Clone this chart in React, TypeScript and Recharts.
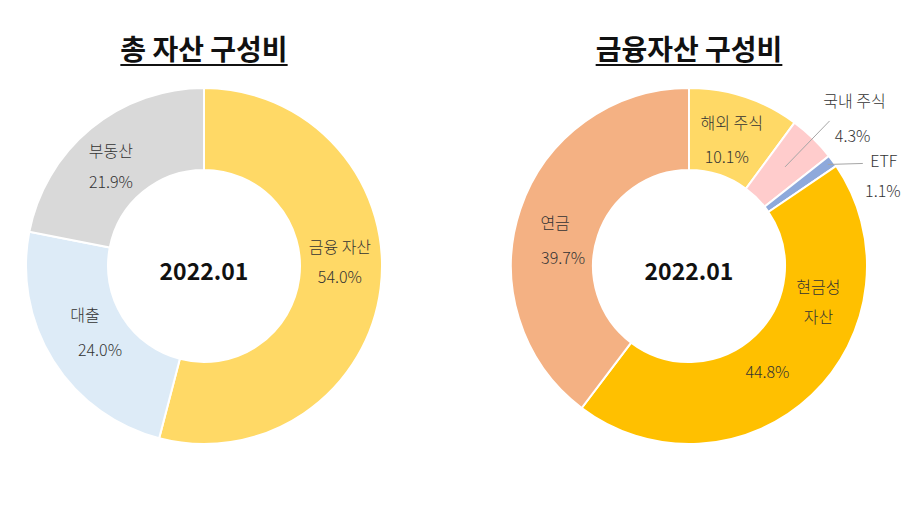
import { PieChart, Pie, Cell } from "recharts";

const totalNames = ["금융 자산", "대출", "부동산"];
const totalValues = [54.0, 24.0, 21.9];
const totalColors = ["#FFD966", "#DDEBF7", "#D9D9D9"];

const finNames = ["해외 주식", "국내 주식", "ETF", "현금성 자산", "연금"];
const finValues = [10.1, 4.3, 1.1, 44.8, 39.7];
const finColors = ["#FFD966", "#FFCCCC", "#8EA9DB", "#FFC000", "#F4B183"];

const periodLabel = "2022.01";

const totalRows = totalNames.map((name, i) => ({ name, value: totalValues[i] }));
const finRows = finNames.map((name, i) => ({ name, value: finValues[i] }));

const RAD = Math.PI / 180;
const FONT = "'Noto Sans CJK KR', 'Noto Sans', sans-serif";
const TXT = "#333";
const LABEL_R = 137;

// label nudges (name / percent) relative to the slice's mid point, like Excel's hand-moved labels
const nudge: Record<string, number[]> = {
  "금융 자산": [0, -36, 0, -6],
  대출: [-3, -24, 12, 11],
  부동산: [-6, -9, -6, 22],
  "해외 주식": [0, -13, -5, 21],
  연금: [-4, 1, 4, 36],
};

function polar(cx: number, cy: number, r: number, angle: number) {
  return { x: cx + r * Math.cos(-angle * RAD), y: cy + r * Math.sin(-angle * RAD) };
}

function pct(v: number) {
  return v.toFixed(1) + "%";
}

function T({ x, y, children }: { x: number; y: number; children: string }) {
  return (
    <text x={x} y={y + 6} textAnchor="middle" fontFamily={FONT} fontSize={16} fontWeight={300} fill={TXT}>
      {children}
    </text>
  );
}

function Center({ cx, cy }: { cx: number; cy: number }) {
  return (
    <text x={cx} y={cy + 14} textAnchor="middle" fontFamily={FONT} fontSize={23} fontWeight={700} fill="#111">
      {periodLabel}
    </text>
  );
}

function inside(p: any) {
  const m = polar(p.cx, p.cy, LABEL_R, p.midAngle);
  const [nx, ny, px, py] = nudge[p.name] || [0, -15, 0, 15];
  return (
    <g>
      {p.index === 0 && <Center cx={p.cx} cy={p.cy} />}
      <T x={m.x + nx} y={m.y + ny}>{p.name}</T>
      <T x={m.x + px} y={m.y + py}>{pct(p.value)}</T>
    </g>
  );
}

const totalLabel = (p: any) => inside(p);

const finLabel = (p: any) => {
  const { cx, cy, midAngle, name, value } = p;
  if (name === "국내 주식") {
    const a = polar(cx, cy, 138, midAngle);
    const b = polar(cx, cy, 202, midAngle);
    return (
      <g>
        <line x1={a.x} y1={a.y} x2={b.x} y2={b.y} stroke="#A6A6A6" strokeWidth={1} />
        <T x={b.x + 25} y={b.y - 20}>{name}</T>
        <T x={b.x + 23} y={b.y + 15}>{pct(value)}</T>
      </g>
    );
  }
  if (name === "ETF") {
    const a = polar(cx, cy, 172, midAngle);
    const b = { x: a.x + 35, y: a.y - 1 };
    return (
      <g>
        <line x1={a.x} y1={a.y} x2={b.x} y2={b.y} stroke="#A6A6A6" strokeWidth={1} />
        <T x={b.x + 21} y={b.y - 2}>{name}</T>
        <T x={b.x + 20} y={b.y + 28}>{pct(value)}</T>
      </g>
    );
  }
  if (name === "현금성 자산") {
    const m = polar(cx, cy, LABEL_R, midAngle);
    const [first, second] = name.split(" ");
    return (
      <g>
        <T x={m.x + 35} y={m.y - 78}>{first}</T>
        <T x={m.x + 35} y={m.y - 48}>{second}</T>
        <T x={m.x - 16} y={m.y + 7}>{pct(value)}</T>
      </g>
    );
  }
  return inside(p);
};

const titleStyle: React.CSSProperties = {
  position: "absolute",
  top: 30,
  width: 400,
  textAlign: "center",
  fontFamily: FONT,
  fontWeight: 700,
  fontSize: 28,
  color: "#111",
  textDecoration: "underline",
  textDecorationThickness: 2,
  textUnderlineOffset: 4,
  lineHeight: "36px",
};

export default function App() {
  return (
    <div style={{ position: "absolute", left: 0, top: 0, width: 922, height: 508, background: "#fff" }}>
      <div style={{ ...titleStyle, left: 4 }}>총 자산 구성비</div>
      <div style={{ ...titleStyle, left: 489 }}>금융자산 구성비</div>
      <PieChart
        width={922}
        height={508}
        margin={{ top: 0, right: 0, bottom: 0, left: 0 }}
        style={{ position: "absolute", left: 0, top: 0 }}
      >
        <Pie
          data={totalRows}
          dataKey="value"
          nameKey="name"
          cx={204}
          cy={266}
          innerRadius={96}
          outerRadius={178}
          startAngle={90}
          endAngle={-270}
          stroke="#fff"
          strokeWidth={2}
          label={totalLabel}
          labelLine={false}
          isAnimationActive={false}
        >
          {totalRows.map((r, i) => (
            <Cell key={r.name} fill={totalColors[i]} />
          ))}
        </Pie>
        <Pie
          data={finRows}
          dataKey="value"
          nameKey="name"
          cx={689}
          cy={266}
          innerRadius={96}
          outerRadius={178}
          startAngle={90}
          endAngle={-270}
          stroke="#fff"
          strokeWidth={2}
          label={finLabel}
          labelLine={false}
          isAnimationActive={false}
        >
          {finRows.map((r, i) => (
            <Cell key={r.name} fill={finColors[i]} />
          ))}
        </Pie>
      </PieChart>
    </div>
  );
}
